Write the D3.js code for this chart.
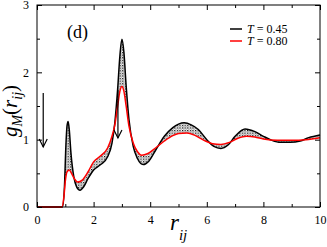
<!DOCTYPE html>
<html><head><meta charset="utf-8">
<script src="https://cdn.jsdelivr.net/npm/d3@7"></script>
<style>html,body{margin:0;padding:0;background:#fff}svg{display:block}
svg text{font-family:"Liberation Serif","Times New Roman",Tinos,serif !important}</style>
</head><body>
<script>
// r values and g_M(r) for T = 0.45 (black) and T = 0.80 (red)
const rBlack = [0,0.9,0.97,1.02,1.06,1.1,1.14,1.2,1.3,1.4,1.52,1.65,1.8,2.0,2.25,2.5,2.65,2.75,2.85,2.93,3.0,3.07,3.15,3.25,3.4,3.55,3.75,3.95,4.2,4.5,4.8,5.0,5.2,5.45,5.7,6.0,6.25,6.5,6.75,7.0,7.35,7.7,8.0,8.3,8.6,8.95,9.3,9.6,10];
const gBlack = [0,0,0.3,0.9,1.2,1.27,1.15,0.8,0.45,0.3,0.25,0.3,0.42,0.55,0.63,0.75,0.95,1.25,1.75,2.25,2.49,2.3,1.8,1.3,0.9,0.72,0.63,0.68,0.85,1.05,1.18,1.23,1.25,1.22,1.15,1.0,0.9,0.87,0.92,1.05,1.16,1.12,1.05,0.99,0.96,0.96,0.98,1.03,1.07];
const rRed = [0,0.88,0.95,1.0,1.06,1.14,1.22,1.32,1.44,1.6,1.8,2.0,2.25,2.5,2.65,2.75,2.85,2.93,3.0,3.07,3.15,3.25,3.4,3.55,3.7,3.9,4.2,4.5,4.8,5.0,5.3,5.6,5.9,6.2,6.5,6.8,7.1,7.4,7.7,8.0,8.5,9.0,9.5,10];
const gRed = [0,0,0.15,0.38,0.52,0.55,0.5,0.42,0.37,0.4,0.52,0.67,0.76,0.88,1.05,1.22,1.5,1.72,1.79,1.72,1.5,1.2,0.95,0.82,0.77,0.79,0.88,0.98,1.06,1.09,1.1,1.06,0.99,0.94,0.93,0.96,1.02,1.05,1.04,1.01,0.99,0.99,1.0,1.03];
const xTicks = [0,2,4,6,8,10];
const yTicks = [0,1,2,3];
const legendLabels = ["0.45","0.80"];
const seriesColors = ["#000000","#ff0000"];

const W = 327, H = 247;
const m = {left:37, right:7, top:5, bottom:40};
const x = d3.scaleLinear().domain([0,10]).range([m.left, W - m.right]);
const y = d3.scaleLinear().domain([0,3]).range([H - m.bottom, m.top]);

const svg = d3.select("body").append("svg").attr("width", W).attr("height", H);

// dotted pattern
const defs = svg.append("defs");
const pat = defs.append("pattern").attr("id","dots").attr("patternUnits","userSpaceOnUse")
  .attr("width",2.6).attr("height",2.6);
pat.append("rect").attr("x",0).attr("y",0).attr("width",1.2).attr("height",1.2).attr("fill","#000");
pat.append("rect").attr("x",1.3).attr("y",1.3).attr("width",0.9).attr("height",0.9).attr("fill","#222");

const black = rBlack.map((r,i)=>[r,gBlack[i]]);
const red = rRed.map((r,i)=>[r,gRed[i]]);
const line = d3.line().x(d=>x(d[0])).y(d=>y(d[1])).curve(d3.curveMonotoneX);

// fill between curves
const areaPath = line(black) + line(red.slice().reverse()).replace(/^M/,"L") + "Z";
svg.append("path").attr("d", areaPath).attr("fill","url(#dots)").attr("stroke","none");

svg.append("path").attr("d", line(black)).attr("fill","none").attr("stroke",seriesColors[0]).attr("stroke-width",1.5);
svg.append("path").attr("d", line(red)).attr("fill","none").attr("stroke",seriesColors[1]).attr("stroke-width",1.5);

// frame
svg.append("rect").attr("x",x(0)).attr("y",y(3)).attr("width",x(10)-x(0)).attr("height",y(0)-y(3))
  .attr("fill","none").attr("stroke","#000").attr("stroke-width",1);

// axes with inward ticks
const axB = d3.axisBottom(x).tickValues(xTicks).tickSizeInner(-5).tickSizeOuter(0).tickPadding(8).tickFormat(d3.format("d"));
const axT = d3.axisTop(x).tickValues(xTicks).tickSizeInner(-5).tickSizeOuter(0).tickFormat("");
const axL = d3.axisLeft(y).tickValues(yTicks).tickSizeInner(-5).tickSizeOuter(0).tickPadding(8).tickFormat(d3.format("d"));
const axR = d3.axisRight(y).tickValues(yTicks).tickSizeInner(-5).tickSizeOuter(0).tickFormat("");
const minorX = d3.range(1,10,2), minorY = [0.5,1.5,2.5];
const axBm = d3.axisBottom(x).tickValues(minorX).tickSizeInner(-3).tickSizeOuter(0).tickFormat("");
const axTm = d3.axisTop(x).tickValues(minorX).tickSizeInner(-3).tickSizeOuter(0).tickFormat("");
const axLm = d3.axisLeft(y).tickValues(minorY).tickSizeInner(-3).tickSizeOuter(0).tickFormat("");
const axRm = d3.axisRight(y).tickValues(minorY).tickSizeInner(-3).tickSizeOuter(0).tickFormat("");
function put(ax, tx, ty){
  const g = svg.append("g").attr("transform",`translate(${tx},${ty})`).call(ax);
  g.attr("font-family", null);
  g.select(".domain").remove();
  g.selectAll("text").attr("font-size",12).attr("fill","#000");
  g.selectAll("line").attr("stroke","#000");
  return g;
}
put(axB,0,y(0)); put(axT,0,y(3)); put(axL,x(0),0); put(axR,x(10),0);
put(axBm,0,y(0)); put(axTm,0,y(3)); put(axLm,x(0),0); put(axRm,x(10),0);

// arrows
function arrow(xp, y1, y2){
  svg.append("line").attr("x1",xp).attr("x2",xp).attr("y1",y1).attr("y2",y2).attr("stroke","#000").attr("stroke-width",1.2);
  svg.append("path").attr("d",`M${xp-4},${y2-8}L${xp},${y2}L${xp+4},${y2-8}`).attr("fill","none").attr("stroke","#000").attr("stroke-width",1.2);
}
arrow(x(0.22), 93, 147);
arrow(x(2.86), 90, 138);

// panel label
svg.append("text").attr("x",67).attr("y",38).attr("font-size",18).text("(d)");

// legend
legendLabels.forEach((lab,i)=>{
  const ly = 29 + i*12;
  svg.append("line").attr("x1",230).attr("x2",242).attr("y1",ly).attr("y2",ly).attr("stroke",seriesColors[i]).attr("stroke-width",1.5);
  const t = svg.append("text").attr("x",247).attr("y",ly+4).attr("font-size",12);
  t.append("tspan").attr("font-style","italic").text("T");
  t.append("tspan").text(" = " + lab);
});

// x label
const xl = svg.append("text").attr("x",170).attr("y",230).attr("font-size",23);
xl.append("tspan").attr("font-style","italic").text("r");
xl.append("tspan").attr("font-style","italic").attr("font-size",15).attr("dy",10).text("ij");

// y label
const yl = svg.append("text").attr("transform","translate(17,111) rotate(-90)").attr("text-anchor","middle").attr("font-size",21);
yl.append("tspan").attr("font-style","italic").text("g");
yl.append("tspan").attr("font-style","italic").attr("font-size",14).attr("dy",5).text("M");
yl.append("tspan").attr("dy",-5).text("(");
yl.append("tspan").attr("font-style","italic").text("r");
yl.append("tspan").attr("font-style","italic").attr("font-size",14).attr("dy",5).text("ij");
yl.append("tspan").attr("dy",-5).text(")");
</script>
</body></html>
